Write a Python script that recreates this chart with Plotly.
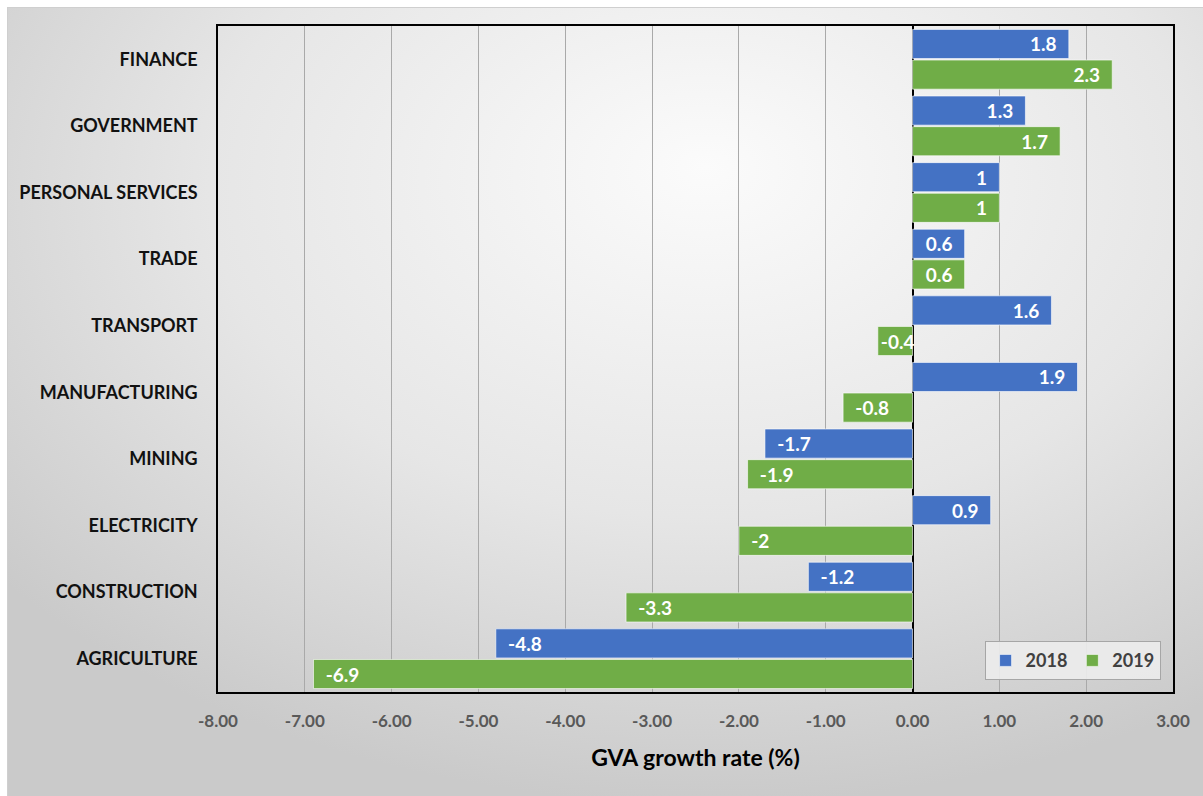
import base64
import plotly.graph_objects as go

# Sectors, listed top to bottom
sectors = ["FINANCE", "GOVERNMENT", "PERSONAL SERVICES", "TRADE", "TRANSPORT",
           "MANUFACTURING", "MINING", "ELECTRICITY", "CONSTRUCTION", "AGRICULTURE"]
growth_2018 = [1.8, 1.3, 1, 0.6, 1.6, 1.9, -1.7, 0.9, -1.2, -4.8]
growth_2019 = [2.3, 1.7, 1, 0.6, -0.4, -0.8, -1.9, -2, -3.3, -6.9]
x_ticks = [-8, -7, -6, -5, -4, -3, -2, -1, 0, 1, 2, 3]

BLUE = "#4472C4"
GREEN = "#70AD47"
FONT = "Lato"

W, H = 1203, 796
L, R, T, B = 218, 30, 26, 104

# Soft radial gradient backdrop for the chart area
svg = f"""<svg xmlns='http://www.w3.org/2000/svg' width='{W}' height='{H}' viewBox='0 0 {W} {H}' preserveAspectRatio='none'>
<defs><radialGradient id='g' cx='0.58' cy='0.25' r='0.75' fx='0.58' fy='0.2'>
<stop offset='0' stop-color='#fbfbfb'/><stop offset='0.55' stop-color='#e6e6e6'/><stop offset='1' stop-color='#cacaca'/>
</radialGradient></defs>
<rect x='0' y='0' width='{W}' height='{H}' fill='#ffffff'/>
<rect x='7.5' y='7.5' width='{W}' height='{H}' fill='url(#g)' stroke='#cfcfcf' stroke-width='1'/>
</svg>"""
bg_uri = "data:image/svg+xml;base64," + base64.b64encode(svg.encode()).decode()

pw, ph = W - L - R, H - T - B
PAD = "\u00a0\u00a0"


def bar_label(v):
    # pad the label away from the bar end it sits against (short bars get none)
    s = f"{v:g}"
    if abs(v) < 0.5:
        return s
    return s + PAD if v >= 0 else PAD + s


fig = go.Figure()
for name, vals, color in [("2018", growth_2018, BLUE), ("2019", growth_2019, GREEN)]:
    fig.add_trace(go.Bar(
        name=name, y=sectors, x=vals, orientation="h",
        marker=dict(color=color, line=dict(color="rgba(255,255,255,0.6)", width=1)),
        text=[bar_label(v) for v in vals], textposition="inside", insidetextanchor="end",
        constraintext="none", cliponaxis=False,
        textfont=dict(family=FONT, size=19, color="white", weight="bold"),
    ))

fig.update_layout(
    width=W, height=H,
    margin=dict(l=L, r=R, t=T, b=B),
    paper_bgcolor="white", plot_bgcolor="rgba(0,0,0,0)",
    barmode="group", bargap=0.08, bargroupgap=0.05,
    showlegend=True,
    legend=dict(orientation="h", x=0.987, y=0.047, xanchor="right", yanchor="middle",
                bgcolor="rgba(236,236,236,0.9)", bordercolor="#a6a6a6", borderwidth=1,
                font=dict(family=FONT, size=18, color="#404040", weight="bold"),
                itemwidth=30, traceorder="normal"),
    images=[dict(source=bg_uri, xref="paper", yref="paper",
                 x=-L / pw, y=1 + T / ph, sizex=W / pw, sizey=H / ph,
                 xanchor="left", yanchor="top", sizing="stretch", layer="below")],
    xaxis=dict(range=[-8, 3], tickvals=x_ticks, ticktext=[f"{v:.2f}" for v in x_ticks],
               showgrid=True, gridcolor="#a9a9a9", gridwidth=1,
               zeroline=True, zerolinecolor="#000000", zerolinewidth=2,
               showline=True, linecolor="#000000", linewidth=1.5, mirror=True,
               ticks="", ticklabelstandoff=13,
               tickfont=dict(family=FONT, size=17, color="#595959", weight="bold"),
               title=dict(text="GVA growth rate (%)", standoff=20,
                          font=dict(family=FONT, size=23, color="#000000", weight="bold"))),
    yaxis=dict(autorange="reversed", showline=True, linecolor="#000000", linewidth=1.5,
               mirror=True, showgrid=False, ticks="", ticklabelstandoff=15,
               tickfont=dict(family=FONT, size=18, color="#111111", weight="bold")),
)

fig.write_html("out.html")
